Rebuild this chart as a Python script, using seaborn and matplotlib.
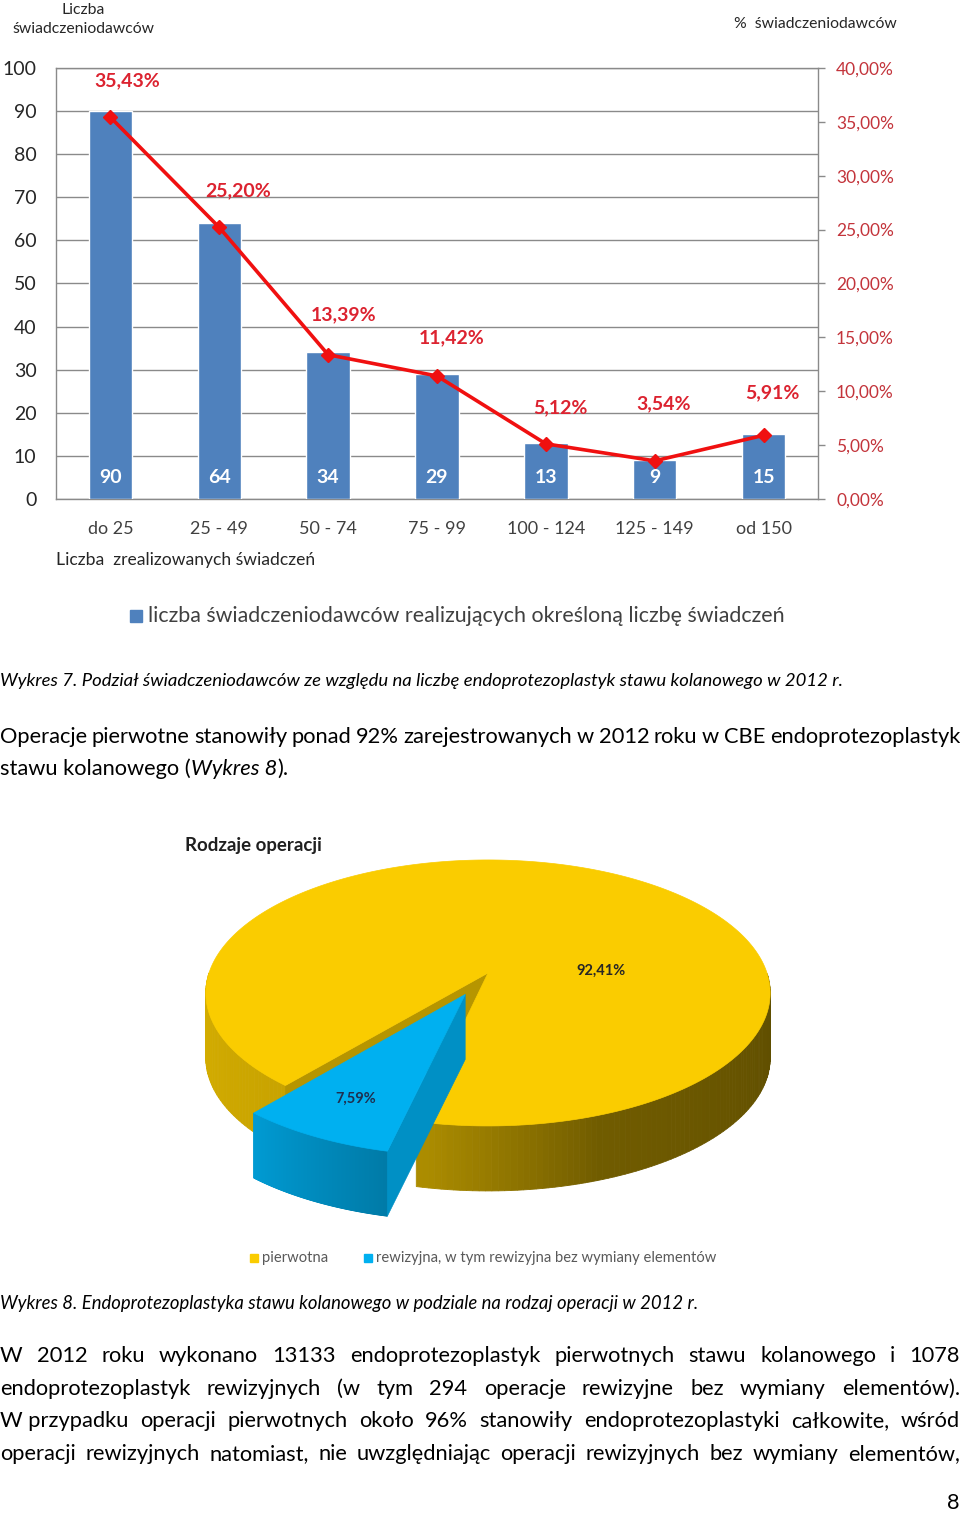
import numpy as np
import pandas as pd
import matplotlib
matplotlib.use("Agg")
import matplotlib.pyplot as plt
import seaborn as sns
from matplotlib.patches import Polygon, Rectangle

# ---------------- data ----------------
categories = ["do 25", "25 - 49", "50 - 74", "75 - 99", "100 - 124", "125 - 149", "od 150"]
provider_counts = [90, 64, 34, 29, 13, 9, 15]
provider_pct = [35.43, 25.20, 13.39, 11.42, 5.12, 3.54, 5.91]
left_ticks = [0, 10, 20, 30, 40, 50, 60, 70, 80, 90, 100]
right_ticks = [0, 5, 10, 15, 20, 25, 30, 35, 40]
bar_legend = "liczba świadczeniodawców realizujących określoną liczbę świadczeń"

pie_labels = ["pierwotna", "rewizyjna, w tym rewizyjna bez wymiany elementów"]
pie_values = [92.41, 7.59]

caption7 = "Wykres 7. Podział świadczeniodawców ze względu na liczbę endoprotezoplastyk stawu kolanowego w 2012 r."
caption8 = "Wykres 8. Endoprotezoplastyka stawu kolanowego w podziale na rodzaj operacji w 2012 r."
para1_line1 = "Operacje pierwotne stanowiły ponad 92% zarejestrowanych w 2012 roku w CBE endoprotezoplastyk"
para1_line2 = [("stawu kolanowego (", "normal"), ("Wykres 8", "italic"), (").", "normal")]
para2_lines = [
    "W 2012 roku wykonano 13133 endoprotezoplastyk pierwotnych stawu kolanowego i 1078",
    "endoprotezoplastyk rewizyjnych (w tym 294 operacje rewizyjne bez wymiany elementów).",
    "W_przypadku operacji pierwotnych około 96% stanowiły endoprotezoplastyki całkowite, wśród",
    "operacji rewizyjnych natomiast, nie uwzględniając operacji rewizyjnych bez wymiany elementów,",
]

def fmt_pct(v):
    return f"{v:.2f}".replace(".", ",") + "%"

# ---------------- style ----------------
sns.set_style("white")
plt.rcParams["font.family"] = ["Lato", "DejaVu Sans"]

W, H = 960, 1513
fig = plt.figure(figsize=(W / 100, H / 100), dpi=100)
fig.patch.set_facecolor("white")

ov = fig.add_axes([0, 0, 1, 1])
ov.set_xlim(0, W)
ov.set_ylim(H, 0)
ov.axis("off")
ov.set_zorder(0)

renderer = fig.canvas.get_renderer()

def twidth(t):
    return t.get_window_extent(renderer).width

def fit_text(x, y, s, width, ha="left", **kw):
    t = ov.text(x, y, s, ha=ha, va="center", fontsize=10, **kw)
    w = twidth(t)
    t.set_fontsize(10 * width / w)
    return t

# ---------------- bar + line chart ----------------
GRID = "#8A8A8A"
ax = fig.add_axes([56 / W, 1 - 499 / H, 762 / W, 431 / H])
ax.set_zorder(2)
ax.patch.set_alpha(0)
df = pd.DataFrame({"cat": categories, "n": provider_counts})
sns.barplot(data=df, x="cat", y="n", order=categories, color="#4F81BD",
            saturation=1, width=0.4, ax=ax, zorder=3)
ax.set_ylim(0, 100)
ax.set_yticks(left_ticks)
ax.yaxis.grid(True, color=GRID, lw=1)
ax.xaxis.grid(False)
ax.set_axisbelow(True)
ax.set_xlabel("")
ax.set_ylabel("")
for s in ["left", "bottom", "top"]:
    ax.spines[s].set_visible(True)
    ax.spines[s].set_color(GRID)
    ax.spines[s].set_linewidth(1)
ax.spines["right"].set_visible(False)
ax.tick_params(axis="y", length=0, pad=14, labelsize=14, labelcolor="#262626")
ax.tick_params(axis="x", length=0, pad=16, labelsize=13, labelcolor="#404040")

for i, v in enumerate(provider_counts):
    ax.text(i, 4.9, str(v), ha="center", va="center", color="white",
            fontweight="bold", fontsize=14, zorder=5)

ax2 = ax.twinx()
ax2.set_ylim(0, 40)
ax2.set_yticks(right_ticks)
ax2.set_yticklabels([fmt_pct(v) for v in right_ticks])
for s in ["left", "bottom", "top"]:
    ax2.spines[s].set_visible(False)
ax2.spines["right"].set_color(GRID)
ax2.spines["right"].set_linewidth(1)
ax2.tick_params(axis="y", length=5, width=1, color=GRID, direction="out",
                pad=8, labelsize=12.5, labelcolor="#C3343B")
ax2.plot(np.arange(len(provider_pct)), provider_pct, color="#F01010", lw=2.6,
         marker="D", markersize=7.5, markeredgecolor="#F01010", zorder=4)
label_offsets = [(17, 36), (19, 37), (15, 40), (15, 38), (15, 36), (9, 57), (9, 43)]
for i, v in enumerate(provider_pct):
    dx, dy = label_offsets[i]
    ax2.annotate(fmt_pct(v), (i, v), xytext=(dx, dy), textcoords="offset pixels",
                 ha="center", va="center", color="#DC2330", fontweight="bold",
                 fontsize=14)
ax.set_xlim(-0.5, len(categories) - 0.5)
ax.set_xticks(range(len(categories)))
ax.set_xticklabels(categories)

# axis titles & legend
t = fit_text(83, 29, "świadczeniodawców", 142, ha="center", color="#262626")
ov.text(83, 10, "Liczba", ha="center", va="center", fontsize=t.get_fontsize(), color="#262626")
fit_text(734, 24, "%  świadczeniodawców", 163, color="#262626")
fit_text(56, 560, "Liczba  zrealizowanych świadczeń", 258, color="#262626")
ov.add_patch(Rectangle((130, 610), 12, 12, color="#4F81BD"))
fit_text(148, 616, bar_legend, 637, color="#404040")

# ---------------- captions & paragraphs ----------------
fit_text(0, 681, caption7, 842, style="italic", color="black")
fit_text(0, 1304, caption8, 698, style="italic", color="black")

tmp = [ov.text(0, 0, s, fontsize=14, style=st) for s, st in para1_line2]
tot = sum(twidth(x) for x in tmp)
for x in tmp:
    x.remove()
PSIZE = 14 * 290 / tot

x = 0
for s, st in para1_line2:
    tt = ov.text(x, 769, s, ha="left", va="center", fontsize=PSIZE, style=st, color="black")
    x += twidth(tt)

def justify(y, line, x0=0, x1=W):
    words = [w.replace("_", " ") for w in line.split(" ")]
    objs = [ov.text(0, y, w, ha="left", va="center", fontsize=PSIZE, color="black") for w in words]
    widths = [twidth(o) for o in objs]
    gap = (x1 - x0 - sum(widths)) / (len(words) - 1)
    xx = x0
    for o, w in zip(objs, widths):
        o.set_x(xx)
        xx += w + gap

justify(737, para1_line1)
for yy, line in zip([1356, 1389, 1421, 1454], para2_lines):
    justify(yy, line)

ov.text(960, 1503, "8", ha="right", va="center", fontsize=PSIZE, color="black")

# ---------------- 3D pie (perspective projection) ----------------
fit_text(185, 846, "Rodzaje operacji", 137, fontweight="bold", color="#1F1F1F")

CX, CY = 488, 973
KX, KZ, PERSP, DEPTH = 279, 130, 0.15, 65

def proj(u, v, h=0.0):
    z = -v
    s = 1.0 / (1.0 - PERSP * z)
    return (CX + KX * u * s, CY + KZ * z * s + h * DEPTH)

def shade(rgb, f):
    return tuple(min(1, c * f) for c in rgb)

def yellow_wall_factor(t):
    t = t % 360
    return np.interp(t, [180, 230, 260, 290, 360], [0.86, 0.80, 0.68, 0.45, 0.37])

def blue_wall_factor(t):
    t = t % 360
    return np.interp(t, [230, 257], [0.88, 0.70])

def draw_slice(t1, t2, eu, ev, base, wall_f, radial, radial_factor):
    ts = np.radians(np.linspace(t1, t2, 300))
    us = np.cos(ts) + eu
    vs = np.sin(ts) + ev
    segs = []
    for k in range(len(ts) - 1):
        tm = 0.5 * (ts[k] + ts[k + 1])
        if np.sin(tm) < 0:
            p = [proj(us[k], vs[k], 0), proj(us[k + 1], vs[k + 1], 0),
                 proj(us[k + 1], vs[k + 1], 1), proj(us[k], vs[k], 1)]
            segs.append((-np.sin(tm), p, shade(base, wall_f(np.degrees(tm)))))
    segs.sort(key=lambda s: s[0])
    for _, p, c in segs:
        ov.add_patch(Polygon(p, closed=True, facecolor=c, edgecolor=c, lw=0.6))
    if radial is not None:
        tr = np.radians(radial)
        ru, rv = np.cos(tr) + eu, np.sin(tr) + ev
        p = [proj(eu, ev, 0), proj(ru, rv, 0), proj(ru, rv, 1), proj(eu, ev, 1)]
        c = shade(base, radial_factor)
        ov.add_patch(Polygon(p, closed=True, facecolor=c, edgecolor=c, lw=0.5))
    p = [proj(eu, ev, 0)] + [proj(u, v, 0) for u, v in zip(us, vs)]
    ov.add_patch(Polygon(p, closed=True, facecolor=base, edgecolor=base, lw=0.5))

YEL = (250 / 255, 204 / 255, 0)
BLU = (0, 176 / 255, 240 / 255)
blue_span = 360 * pie_values[1] / sum(pie_values)
b_start = 230
b_end = b_start + blue_span
draw_slice(b_end, b_start + 360, 0, 0, YEL, yellow_wall_factor, b_start + 360, 0.73)
mid = np.radians(0.5 * (b_start + b_end))
EXP = 0.18
draw_slice(b_start, b_end, EXP * np.cos(mid), EXP * np.sin(mid), BLU, blue_wall_factor, b_end, 0.82)

ov.text(601, 971, fmt_pct(pie_values[0]), ha="center", va="center", fontsize=10.5,
        fontweight="bold", color="#262626")
ov.text(356, 1099, fmt_pct(pie_values[1]), ha="center", va="center", fontsize=10.5,
        fontweight="bold", color="#1F2F4F")

# pie legend
ov.add_patch(Rectangle((250, 1254), 8, 8, color="#FACC00"))
fit_text(262, 1258, pie_labels[0], 66, color="#595959")
ov.add_patch(Rectangle((364, 1254), 8, 8, color="#00B0F0"))
fit_text(376, 1258, pie_labels[1], 340, color="#595959")

fig.savefig("out.png", dpi=100, facecolor="white")
